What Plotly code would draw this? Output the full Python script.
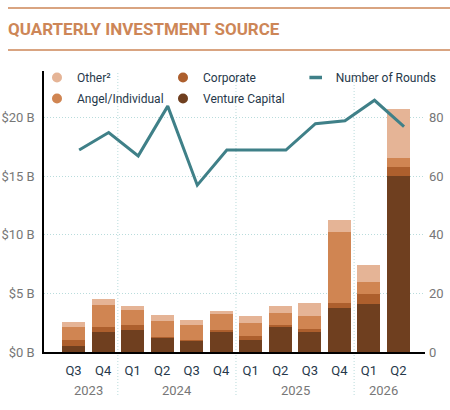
import plotly.graph_objects as go

# ---------------- data ----------------
quarters = ["Q3", "Q4", "Q1", "Q2", "Q3", "Q4", "Q1", "Q2", "Q3", "Q4", "Q1", "Q2"]
years = ["2023", "2023", "2024", "2024", "2024", "2024", "2025", "2025", "2025", "2025", "2026", "2026"]
venture_capital = [0.51, 1.71, 1.88, 1.20, 0.94, 1.71, 1.03, 2.22, 1.79, 3.76, 4.10, 15.05]
corporate = [0.51, 0.43, 0.43, 0.09, 0.09, 0.17, 0.34, 0.09, 0.17, 0.40, 0.85, 0.77]
angel_individual = [1.11, 1.88, 1.28, 1.37, 1.28, 1.37, 1.11, 1.03, 1.11, 6.12, 1.03, 0.77]
other = [0.43, 0.51, 0.34, 0.51, 0.43, 0.26, 0.60, 0.60, 1.11, 1.00, 1.45, 4.16]
number_of_rounds = [69, 75, 67, 84, 57, 69, 69, 69, 78, 79, 86, 77]
y_ticks = [0, 5, 10, 15, 20]
y_tick_labels = ["$0 B", "$5 B", "$10 B", "$15 B", "$20 B"]
y2_ticks = [0, 20, 40, 60, 80]

# ---------------- style ----------------
C_VC = "#6f3f1f"
C_CORP = "#ad5f2d"
C_ANGEL = "#d08552"
C_OTHER = "#e5b496"
C_LINE = "#3f8088"
C_TITLE = "#cd8657"
C_DARK = "#26384a"
C_GRAY = "#777777"
C_GRID = "#b9dcdc"
FONT = "Roboto"
DOT = "1px,2px"

W, H = 450, 410
ML, MR, MT, MB = 44, 25, 71, 58
PW, PH = W - ML - MR, H - MT - MB

cats = [f"{q} {y}" for q, y in zip(quarters, years)]
n = len(cats)
xr = [-1.0, n - 0.1]
shift = 0.19

fig = go.Figure()
series = [("Venture Capital", venture_capital, C_VC, "legend2"),
          ("Corporate", corporate, C_CORP, "legend2"),
          ("Angel/Individual", angel_individual, C_ANGEL, "legend"),
          ("Other²", other, C_OTHER, "legend")]
for name, vals, col, lg in series:
    fig.add_trace(go.Bar(x=cats, y=vals, name=name, marker=dict(color=col, line=dict(width=0)),
                         showlegend=False, yaxis="y", xaxis="x"))

fig.add_trace(go.Scatter(x=cats, y=number_of_rounds, mode="lines", name="Number of Rounds",
                         line=dict(color=C_LINE, width=3), showlegend=False,
                         xaxis="x2", yaxis="y2"))

# legend entries (three legend columns)
ranks = {"Other²": 1, "Angel/Individual": 2, "Corporate": 1, "Venture Capital": 2}
for name, vals, col, lg in series:
    fig.add_trace(go.Scatter(x=[None], y=[None], mode="markers", name=name,
                             marker=dict(symbol="circle", size=10, color=col),
                             legendrank=ranks[name], legend=lg, legendgroup=name))
fig.add_trace(go.Scatter(x=[None], y=[None], mode="markers", name="Number of Rounds",
                         marker=dict(symbol="line-ew", size=9, line=dict(color=C_LINE, width=3.5)),
                         legend="legend3", legendgroup="rounds"))

# year labels and dividers
year_list = []
for y in years:
    if y not in year_list:
        year_list.append(y)
annotations = []
for y in year_list:
    idx = [i for i, yy in enumerate(years) if yy == y]
    annotations.append(dict(x=sum(idx) / len(idx), y=0, xref="x", yref="paper",
                            text=y, showarrow=False, yanchor="middle", yshift=-38,
                            font=dict(family=FONT, size=13, color=C_GRAY)))
shapes = []
for i in range(1, n):
    if years[i] != years[i - 1]:
        shapes.append(dict(type="line", xref="x", yref="paper", x0=i - 0.5, x1=i - 0.5,
                           y0=-43 / PH, y1=1, line=dict(color=C_GRID, width=1, dash=DOT),
                           layer="below"))
# title rules
for ypx in (8, 50):
    shapes.append(dict(type="line", xref="paper", yref="paper",
                       x0=(8 - ML) / PW, x1=(W - ML) / PW,
                       y0=(H - MB - ypx) / PH, y1=(H - MB - ypx) / PH,
                       line=dict(color=C_TITLE, width=1.5)))


def legend_at(px_left):
    return dict(orientation="v", x=(px_left - ML) / PW, xanchor="left",
                y=(H - MB - 63) / PH, yanchor="top", traceorder="grouped",
                tracegroupgap=2,
                bgcolor="rgba(0,0,0,0)", itemclick=False, itemdoubleclick=False,
                font=dict(family=FONT, size=12, color=C_DARK))


fig.update_layout(
    width=W, height=H,
    margin=dict(l=ML, r=MR, t=MT, b=MB, pad=0, autoexpand=False),
    paper_bgcolor="white", plot_bgcolor="white",
    barmode="stack", bargap=0.22,
    font=dict(family=FONT, size=13, color=C_DARK),
    title=dict(text="<b>QUARTERLY INVESTMENT SOURCE</b>", x=8 / W, xanchor="left",
               y=1 - 29 / H, yanchor="middle",
               font=dict(family=FONT, size=17, color=C_TITLE)),
    xaxis=dict(type="category", categoryorder="array", categoryarray=cats,
               tickvals=cats, ticktext=quarters, range=xr,
               showline=True, linecolor="black", linewidth=1.5,
               showgrid=False, ticks="", tickfont=dict(family=FONT, size=13, color=C_DARK),
               ticklabelstandoff=6, zeroline=False),
    xaxis2=dict(type="category", categoryorder="array", categoryarray=cats,
                range=[xr[0] - shift, xr[1] - shift], overlaying="x", visible=False,
                showgrid=False, zeroline=False),
    yaxis=dict(range=[0, 24], tickvals=y_ticks, ticktext=y_tick_labels,
               showline=True, linecolor="black", linewidth=1.5,
               showgrid=True, gridcolor=C_GRID, griddash=DOT, gridwidth=1,
               zeroline=False, ticks="", ticklabelstandoff=5,
               tickfont=dict(family=FONT, size=13, color=C_GRAY)),
    yaxis2=dict(range=[0, 96], tickvals=y2_ticks, overlaying="y", side="right",
                showgrid=False, zeroline=False, showline=False, ticks="",
                ticklabelstandoff=3,
                tickfont=dict(family=FONT, size=13, color=C_GRAY)),
    legend=legend_at(37),
    legend2=legend_at(163),
    legend3=legend_at(295.7),
    annotations=annotations, shapes=shapes,
)

fig.write_html("out.html")
